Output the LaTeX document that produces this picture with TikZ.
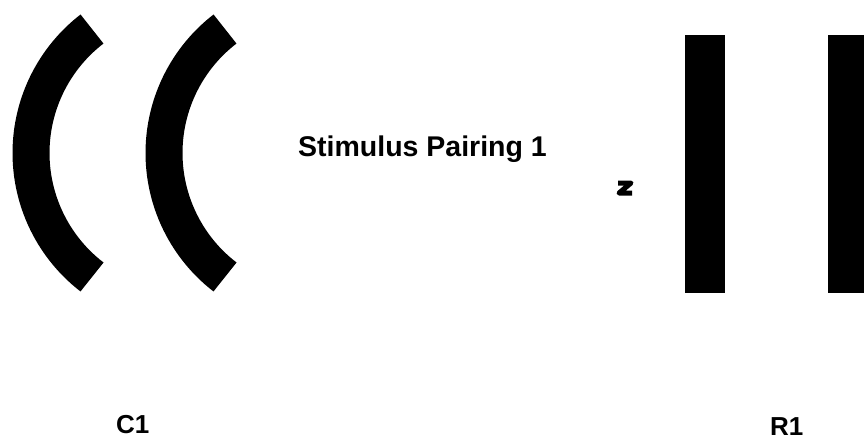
\documentclass[tikz,border=0pt]{standalone}
\usepackage{fontspec}
\setmainfont{Liberation Sans}
\tikzset{
  curve/.style={line width=37pt, line cap=butt},
  bar/.style={fill=black},
  lbl/.style={font=\fontsize{26}{30}\selectfont\bfseries, inner sep=0pt},
}
\begin{document}
\begin{tikzpicture}[x=1pt, y=-1pt]
  \useasboundingbox (0,0) rectangle (864,440);
  % 两道弧
  \coordinate (O1) at (187.5,153);
  \coordinate (O2) at (320.5,153);
  \draw[curve] ([shift={(127.6:156.5)}]O1) arc (127.6:232.4:156.5);
  \draw[curve] ([shift={(127.6:156.5)}]O2) arc (127.6:232.4:156.5);
  % 两根竖条
  \fill[bar] (685,35) rectangle (725,293);
  \fill[bar] (828,35) rectangle (864,293);
  % 小记号
  \draw[line width=5pt, line join=round] (618,183) -- (631,183) -- (619,193) -- (632,193);
  % 文字
  \node[lbl, anchor=base west, font=\fontsize{28.5}{32}\selectfont\bfseries] (pair) at (298,156) {Stimulus Pairing 1};
  \node[lbl, anchor=base west] (c1) at (116,433) {C1};
  \node[lbl, anchor=base west] (r1) at (770,435) {R1};
\end{tikzpicture}
\end{document}
